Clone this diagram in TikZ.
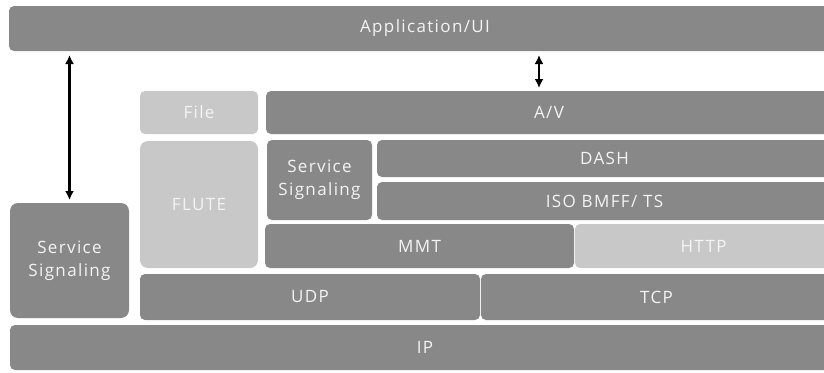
\documentclass[tikz,border=0pt]{standalone}
\usepackage{fontspec}
\setmainfont[LetterSpace=8]{Open Sans}
\usetikzlibrary{arrows.meta}
\definecolor{darkbox}{HTML}{888888}
\definecolor{lightbox}{HTML}{C8C8C8}
\definecolor{boxtext}{HTML}{F4F4F4}
\tikzset{
  layer/.style={rounded corners=5pt, inner sep=0pt, outer sep=0pt, anchor=north west,
    text=boxtext, font=\fontsize{17}{23}\selectfont, align=center},
  dbox/.style={layer, fill=darkbox},
  lbox/.style={layer, fill=lightbox},
  arr/.style={line width=2.2pt, {Latex[length=9pt,width=9pt]}-{Latex[length=9pt,width=9pt]}}
}
\begin{document}
\begin{tikzpicture}[x=1pt,y={(0pt,-1pt)}]
\useasboundingbox (0,0) rectangle (824,372);
\clip (0,0) rectangle (824,372);
\node[dbox, minimum width=832pt, minimum height=45pt] (app) at (9,6) {Application/UI};
\node[lbox, minimum width=118pt, minimum height=43pt] (file) at (140,91) {File};
\node[dbox, minimum width=566pt, minimum height=43pt] (av) at (266,91) {A/V};
\node[lbox, minimum width=118pt, minimum height=127pt, rounded corners=8pt] (flute) at (140,141) {FLUTE};
\node[dbox, minimum width=105pt, minimum height=80pt] (ssi) at (267,140) {Service\\Signaling};
\node[dbox, minimum width=455pt, minimum height=37pt] (dash) at (377,140) {DASH};
\node[dbox, minimum width=455pt, minimum height=38pt] (iso) at (377,182) {ISO BMFF/ TS};
\node[dbox, minimum width=309pt, minimum height=44pt] (mmt) at (265,224) {MMT};
\node[lbox, minimum width=257pt, minimum height=44pt] (http) at (575,224) {HTTP};
\node[dbox, minimum width=119pt, minimum height=115pt, rounded corners=8pt] (ssl) at (10,203) {Service\\Signaling};
\node[dbox, minimum width=340pt, minimum height=46pt] (udp) at (140,274) {UDP};
\node[dbox, minimum width=351pt, minimum height=46pt] (tcp) at (481,274) {TCP};
\node[dbox, minimum width=830pt, minimum height=45pt] (ip) at (10,325) {IP};
\coordinate (ax) at (539,0);
\draw[arr, shorten <=4pt, shorten >=3pt] (ssl.north |- app.south) -- (ssl.north);
\draw[arr, shorten <=4pt, shorten >=3pt] (ax |- app.south) -- (ax |- av.north);
\end{tikzpicture}
\end{document}
